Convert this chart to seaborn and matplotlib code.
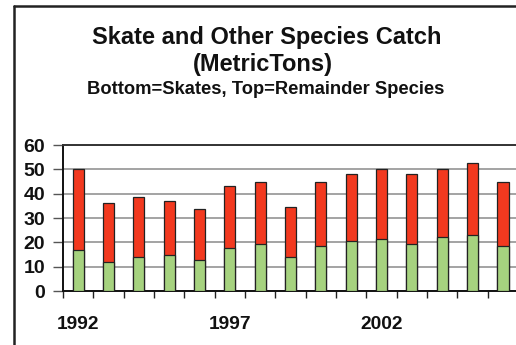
import matplotlib
matplotlib.use("Agg")
import matplotlib.pyplot as plt
from matplotlib.lines import Line2D
from matplotlib.ticker import FixedLocator
import seaborn as sns
import pandas as pd

years = [1992, 1993, 1994, 1995, 1996, 1997, 1998, 1999, 2000,
         2001, 2002, 2003, 2004, 2005, 2006]
skates = [17, 12, 14, 14.7, 12.6, 17.7, 19.3, 14.1, 18.6,
          20.4, 21.5, 19.5, 22.3, 23.2, 18.6]
totals = [50, 36, 38.6, 37, 33.7, 43, 45, 34.5, 45,
          48, 50, 48, 50, 52.5, 45]
labelled_years = [1992, 1997, 2002]

df = pd.DataFrame({"year": [str(y) for y in years],
                   "skates": skates, "total": totals})

sns.set_style("white")
plt.rcParams["font.family"] = ["Liberation Sans", "DejaVu Sans"]
plt.rcParams["font.weight"] = "bold"

fig = plt.figure(figsize=(5.16, 3.45), dpi=100)
ax = fig.add_axes([0.122, 0.1565, 0.882, 0.423])

red = "#f2391f"
green = "#a6d27f"
sns.barplot(data=df, x="year", y="total", color=red, width=0.37,
            edgecolor="#222222", linewidth=0.9, saturation=1, ax=ax, zorder=3)
sns.barplot(data=df, x="year", y="skates", color=green, width=0.37,
            edgecolor="#222222", linewidth=0.9, saturation=1, ax=ax, zorder=3)

n = len(years)
ax.set_xlim(-0.5, n - 0.5)
ax.set_ylim(0, 60)
ax.set_yticks(range(0, 61, 10))
ax.yaxis.grid(True, color="#8a8a8a", linewidth=1.1, zorder=0)
ax.set_axisbelow(True)

pos = [years.index(y) for y in labelled_years]
ax.set_xticks(pos)
ax.set_xticklabels([str(y) for y in labelled_years])
ax.xaxis.set_minor_locator(FixedLocator([i - 0.5 for i in range(n + 1)]))
ax.tick_params(axis="x", which="major", length=0, pad=18, labelsize=13.8)
ax.tick_params(axis="x", which="minor", length=5, width=1, color="#222222",
               direction="out", bottom=True)
ax.tick_params(axis="y", which="major", length=7, width=1, color="#555555",
               direction="out", left=True, labelsize=14, pad=6)
for lab in ax.get_xticklabels() + ax.get_yticklabels():
    lab.set_fontweight("bold")
    lab.set_color("#111111")

ax.set_xlabel("")
ax.set_ylabel("")
for side in ["left", "bottom"]:
    ax.spines[side].set_color("#111111")
    ax.spines[side].set_linewidth(1.4)
ax.spines["top"].set_color("#333333")
ax.spines["top"].set_linewidth(1.4)
ax.spines["right"].set_visible(False)

fig.text(0.517, 0.89, "Skate and Other Species Catch", ha="center",
         va="center", fontsize=17, fontweight="bold", color="#111111")
fig.text(0.51, 0.814, "(MetricTons)", ha="center", va="center",
         fontsize=17, fontweight="bold", color="#111111")
fig.text(0.514, 0.74, "Bottom=Skates, Top=Remainder Species", ha="center",
         va="center", fontsize=13.2, fontweight="bold", color="#111111")

# outer frame, left and top edges
fig.add_artist(Line2D([0.027, 0.027], [0.0, 0.984], transform=fig.transFigure,
                      color="#222222", linewidth=1.8))
fig.add_artist(Line2D([0.027, 1.0], [0.984, 0.984], transform=fig.transFigure,
                      color="#222222", linewidth=1.8))

fig.savefig("out.png", dpi=100)
